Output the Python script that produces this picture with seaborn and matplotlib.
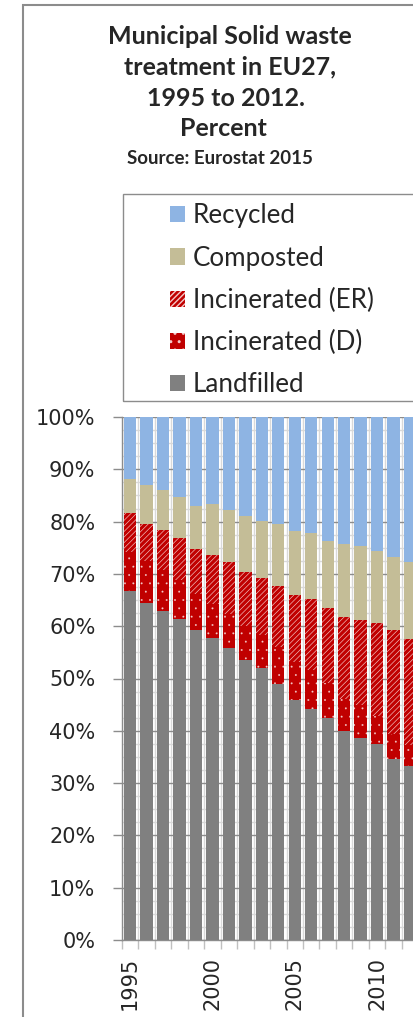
import matplotlib
matplotlib.use("Agg")
import matplotlib.pyplot as plt
from matplotlib.patches import Patch, Rectangle
from matplotlib.ticker import MultipleLocator, FixedLocator, FuncFormatter
import numpy as np
import seaborn as sns

# Municipal solid waste treatment in EU27, share of total (%)
years = [str(y) for y in range(1995, 2013)]
landfilled = [66.7, 64.5, 63.0, 61.4, 59.3, 57.7, 55.9, 53.5, 52.0, 49.0,
              45.8, 44.2, 42.4, 39.9, 38.7, 37.5, 34.6, 33.3]
incinerated_d = [7.5, 8.0, 7.7, 7.4, 6.9, 6.5, 6.5, 6.6, 6.4, 7.1,
                 7.4, 7.4, 6.7, 6.2, 6.2, 5.4, 4.7, 3.9]
incinerated_er = [7.4, 7.0, 7.6, 8.1, 8.6, 9.5, 9.8, 10.3, 10.9, 11.6,
                  12.8, 13.6, 14.3, 15.7, 16.3, 17.7, 20.0, 20.4]
composted = [6.5, 7.5, 7.7, 7.8, 8.2, 9.7, 10.1, 10.7, 10.8, 11.8,
             12.2, 12.6, 12.8, 14.0, 14.2, 13.8, 13.9, 14.7]
recycled = [11.9, 13.0, 14.0, 15.3, 17.0, 16.6, 17.7, 18.9, 19.9, 20.5,
            21.8, 22.2, 23.8, 24.2, 24.6, 25.6, 26.8, 27.7]
labeled_years = ["1995", "2000", "2005", "2010"]

# name, values, fill colour, hatch pattern, hatch line width
series = [
    ("Landfilled", landfilled, "#808080", None, 0.7),
    ("Incinerated (D)", incinerated_d, "#C00000", "..", 0.15),
    ("Incinerated (ER)", incinerated_er, "#C00000", "//////", 0.45),
    ("Composted", composted, "#C4BD97", None, 0.7),
    ("Recycled", recycled, "#8EB4E3", None, 0.7),
]

sns.set_style("white")
plt.rcParams["font.family"] = ["DejaVu Sans"]

W, H = 414, 1017
fig = plt.figure(figsize=(W / 100, H / 100), dpi=100)

def fx(px):
    return px / W

def fy(py):
    return 1 - py / H

ax_left, ax_right, ax_top, ax_bot = 121.8, 418.3, 417.0, 940.0
ax = fig.add_axes([fx(ax_left), fy(ax_bot), fx(ax_right - ax_left), (ax_bot - ax_top) / H])

bottom = np.zeros(len(years))
for name, vals, color, hatch, hlw in series:
    kw = dict(edgecolor="#F4C8C8", linewidth=0, hatch=hatch) if hatch else dict(linewidth=0)
    with plt.rc_context({"hatch.linewidth": hlw}):
        sns.barplot(x=years, y=vals, bottom=bottom, color=color, saturation=1,
                    width=0.75, errorbar=None, ax=ax, zorder=3, **kw)
    bottom = bottom + np.array(vals)

ax.set_xlim(-0.5, len(years) - 0.5)
ax.set_ylim(0, 100)

# gridlines
ax.yaxis.set_major_locator(MultipleLocator(10))
ax.yaxis.set_minor_locator(MultipleLocator(2.5))
ax.yaxis.set_major_formatter(FuncFormatter(lambda v, p: f"{v:.0f}%"))
ax.xaxis.set_minor_locator(FixedLocator(np.arange(-0.5, len(years), 1.0)))
ax.set_xticks([years.index(y) for y in labeled_years])
ax.set_xticklabels(labeled_years, rotation=90)
ax.grid(True, which="major", axis="y", color="#8C8C8C", linewidth=1.0, zorder=1)
ax.grid(True, which="minor", axis="y", color="#D9D9D9", linewidth=1.0, zorder=0)
ax.grid(True, which="minor", axis="x", color="#D9D9D9", linewidth=1.0, zorder=0)
ax.grid(False, which="major", axis="x")
ax.set_axisbelow(True)

for s in ["top", "right"]:
    ax.spines[s].set_visible(False)
for s in ["left", "bottom"]:
    ax.spines[s].set_color("#8C8C8C")
    ax.spines[s].set_linewidth(1.0)

ax.tick_params(axis="y", which="major", length=6.5, width=1.0, color="#8C8C8C",
               direction="out", labelsize=15, pad=12.5, left=True)
ax.tick_params(axis="y", which="minor", length=0)
ax.tick_params(axis="x", which="major", length=0, labelsize=15, pad=12)
ax.tick_params(axis="x", which="minor", length=6.5, width=1.0, color="#C0C0C0",
               direction="out", bottom=True)
ax.set_xlabel("")
ax.set_ylabel("")

# title block
title_font = ["Lato", "DejaVu Sans"]
title_lines = [
    ("Municipal Solid waste", 230, 36),
    ("treatment in EU27,", 230, 67),
    ("1995 to 2012.", 226, 98),
    ("Percent", 223.5, 129),
]
for txt, cx, cy in title_lines:
    fig.text(fx(cx), fy(cy), txt, ha="center", va="center", fontsize=18,
             fontweight="bold", family=title_font)
fig.text(fx(220), fy(158), "Source: Eurostat 2015", ha="center", va="center",
         fontsize=13.5, fontweight="bold", family=title_font)

# legend
handles = []
for name, vals, color, hatch, hlw in reversed(series):
    with plt.rc_context({"hatch.linewidth": hlw}):
        if hatch:
            handles.append(Patch(facecolor=color, edgecolor="#F4C8C8", linewidth=0,
                                 hatch=hatch, label=name))
        else:
            handles.append(Patch(facecolor=color, linewidth=0, label=name))
leg = fig.legend(handles=handles, loc="upper left", bbox_to_anchor=(fx(170), fy(203.5)),
                 frameon=False, prop={"family": "Lato", "size": 18.7},
                 handlelength=0.58, handleheight=0.58, handletextpad=0.3,
                 labelspacing=0.66, borderpad=0, borderaxespad=0)

# frames
fig.add_artist(Rectangle((fx(123), fy(401)), 1.0, (401 - 194) / H, transform=fig.transFigure,
                         fill=False, edgecolor="#8C8C8C", linewidth=1.0))
fig.add_artist(Rectangle((fx(23), -0.1), 1.0, 1.1 - 5 / H, transform=fig.transFigure,
                         fill=False, edgecolor="#8C8C8C", linewidth=1.5))

fig.savefig("out.png", dpi=100)
